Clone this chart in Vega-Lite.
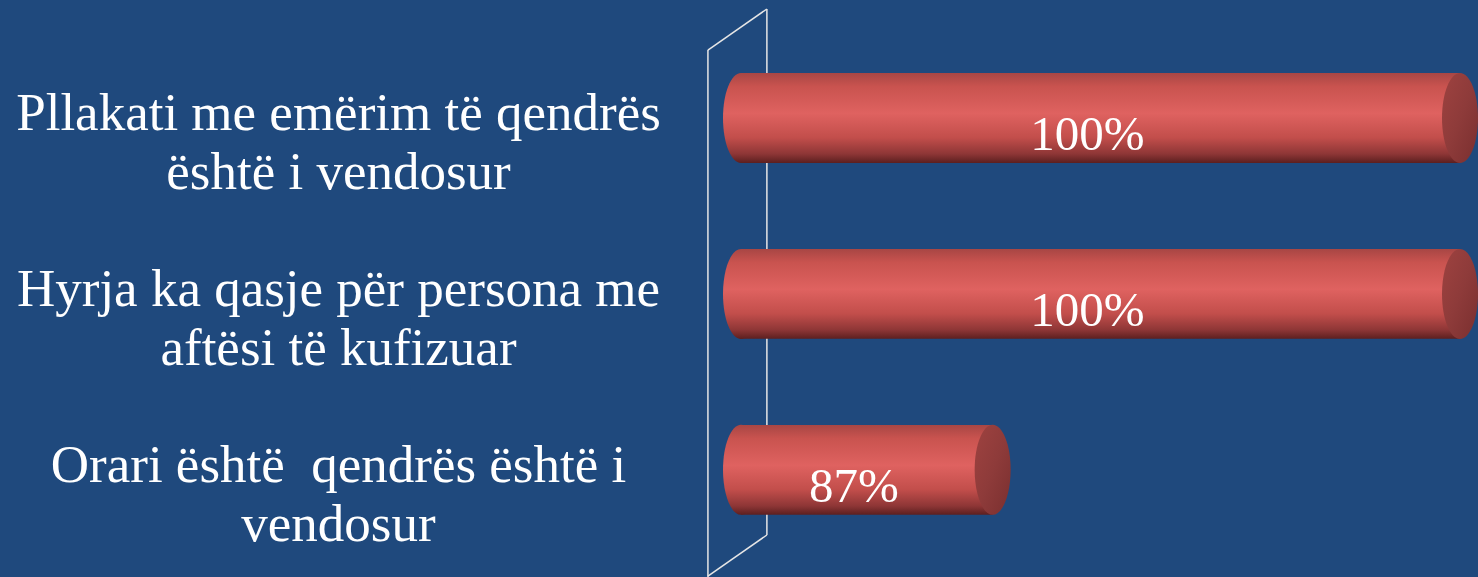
{
  "$schema": "https://vega.github.io/schema/vega-lite/v6.json",
  "width": 719,
  "height": 577,
  "autosize": {"type": "none"},
  "padding": {"left": 741, "right": 18, "top": 0, "bottom": 0},
  "background": "#1F497D",
  "config": {"view": {"stroke": null}},
  "datasets": {
    "bars": [
      {"item": "Pllakati me emërim të qendrës|është i vendosur", "value": 1.0},
      {"item": "Hyrja ka qasje për persona me|aftësi të kufizuar", "value": 1.0},
      {"item": "Orari është\u00a0 qendrës është i|vendosur", "value": 0.87}
    ],
    "wall": [
      {"xa": 0.7908, "ya": 91.33, "xb": 0.8072, "yb": 98.44},
      {"xa": 0.8072, "ya": 98.44, "xb": 0.8072, "yb": 7.28},
      {"xa": 0.8072, "ya": 7.28, "xb": 0.7908, "yb": 0.17},
      {"xa": 0.7908, "ya": 91.33, "xb": 0.7908, "yb": 0}
    ]
  },
  "resolve": {"scale": {"y": "independent", "x": "independent"}, "axis": {"y": "independent"}},
  "layer": [
    {
      "data": {"name": "wall"},
      "mark": {"type": "rule", "color": "#E6E6E6", "strokeWidth": 1.5},
      "encoding": {
        "x": {"field": "xa", "type": "quantitative", "scale": {"domain": [0.8, 1.0], "nice": false, "zero": false}, "axis": null},
        "x2": {"field": "xb"},
        "y": {"field": "ya", "type": "quantitative", "scale": {"domain": [0, 100], "nice": false}, "axis": null},
        "y2": {"field": "yb"}
      }
    },
    {
      "data": {"name": "bars"},
      "resolve": {"scale": {"x": "independent"}},
      "encoding": {
        "y": {
          "field": "item", "type": "nominal", "sort": null,
          "scale": {"paddingInner": 0.489, "paddingOuter": 0.384, "align": 0.54},
          "axis": {
            "title": null, "domain": false, "ticks": false, "tickSize": 0,
            "labelPadding": 403, "labelAlign": "center", "labelBaseline": "alphabetic",
            "labelOffset": 12, "labelLineHeight": 59,
            "labelFont": "Liberation Serif", "labelFontSize": 53, "labelColor": "#FFFFFF",
            "labelLimit": 0, "labelOverlap": false,
            "labelExpr": "split(datum.label, '|')"
          }
        }
      },
      "layer": [
        {
          "mark": {"type": "point", "filled": true, "opacity": 1, "size": 8100,
            "shape": "M0,-1 A0.4,1 0 1,1 0,1 A0.4,1 0 1,1 0,-1 Z",
            "fill": {"gradient": "linear", "x1": 0, "y1": 0, "x2": 0, "y2": 1,
              "stops": [
                {"offset": 0, "color": "#A84644"},
                {"offset": 0.15, "color": "#C9534F"},
                {"offset": 0.45, "color": "#DF6260"},
                {"offset": 0.72, "color": "#C24E4B"},
                {"offset": 0.9, "color": "#8E3636"},
                {"offset": 1, "color": "#5C1F1F"}
              ]}
          },
          "encoding": {
            "x": {"datum": 0.8, "type": "quantitative", "scale": {"domain": [0.8, 1.0], "nice": false, "zero": false}, "axis": null}
          }
        },
        {
          "mark": {"type": "bar",
            "fill": {"gradient": "linear", "x1": 0, "y1": 0, "x2": 0, "y2": 1,
              "stops": [
                {"offset": 0, "color": "#A84644"},
                {"offset": 0.15, "color": "#C9534F"},
                {"offset": 0.45, "color": "#DF6260"},
                {"offset": 0.72, "color": "#C24E4B"},
                {"offset": 0.9, "color": "#8E3636"},
                {"offset": 1, "color": "#5C1F1F"}
              ]}
          },
          "encoding": {
            "x": {"field": "value", "type": "quantitative", "scale": {"domain": [0.8, 1.0], "nice": false, "zero": false}, "axis": null},
            "x2": {"datum": 0.8}
          }
        },
        {
          "mark": {"type": "point", "filled": true, "opacity": 1, "size": 8100,
            "shape": "M0,-1 A0.4,1 0 1,1 0,1 A0.4,1 0 1,1 0,-1 Z",
            "fill": {"gradient": "linear", "x1": 0, "y1": 0, "x2": 1, "y2": 1,
              "stops": [
                {"offset": 0, "color": "#9E4240"},
                {"offset": 0.5, "color": "#8E3B3A"},
                {"offset": 1, "color": "#7A2F2F"}
              ]}
          },
          "encoding": {
            "x": {"field": "value", "type": "quantitative", "scale": {"domain": [0.8, 1.0], "nice": false, "zero": false}, "axis": null}
          }
        },
        {
          "mark": {"type": "text", "font": "Liberation Serif", "fontSize": 49, "color": "#FFFFFF",
            "align": "center", "baseline": "alphabetic", "dx": -13, "dy": 32},
          "encoding": {
            "x": {"field": "value", "type": "quantitative", "scale": {"domain": [0.8, 1.2], "nice": false, "zero": false}, "axis": null},
            "text": {"field": "value", "type": "quantitative", "format": ".0%"}
          }
        }
      ]
    }
  ]
}
